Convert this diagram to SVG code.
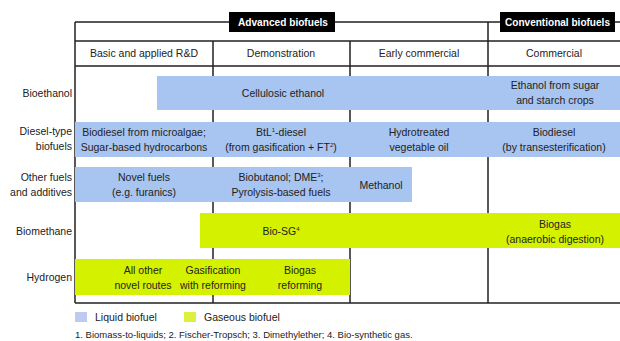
<svg xmlns="http://www.w3.org/2000/svg" width="620" height="341" viewBox="0 0 620 341">
<style>
text{font-family:"Liberation Sans","Open Sans",sans-serif;font-size:10.5px;fill:#222}
.c{text-anchor:middle}
.r{text-anchor:end}
.h{font-size:11px;font-weight:bold;fill:#fff}
.ln{stroke:#222;stroke-width:1.5;fill:none}
.liq{fill:#a8c4f0}
.gas{fill:#d4f200}
.fn{font-size:9.5px}
</style>
<rect width="620" height="341" fill="#fff"/>
<g id="grid">
<path class="ln" d="M75 22H620M75 41H620M75 66H620M75 303H620M75 22V303M213 41V303M350 41V303M488 22V303"/>
</g>
<g id="header-advanced"><rect x="229" y="12" width="106" height="20" fill="#000"/><text class="h" x="238" y="26" textLength="90" lengthAdjust="spacingAndGlyphs">Advanced biofuels</text></g>
<g id="header-conventional"><rect x="500" y="12" width="115" height="20" fill="#000"/><text class="h" x="505" y="26" textLength="105" lengthAdjust="spacingAndGlyphs">Conventional biofuels</text></g>
<g id="stages">
<text class="c" x="144" y="57">Basic and applied R&amp;D</text>
<text class="c" x="281" y="57">Demonstration</text>
<text class="c" x="419" y="57">Early commercial</text>
<text class="c" x="554" y="57">Commercial</text>
</g>
<g id="row-labels">
<text class="r" x="72" y="97">Bioethanol</text>
<text class="r" x="72" y="135">Diesel-type</text>
<text class="r" x="72" y="150">biofuels</text>
<text class="r" x="72" y="181">Other fuels</text>
<text class="r" x="72" y="196">and additives</text>
<text class="r" x="72" y="235">Biomethane</text>
<text class="r" x="72" y="281">Hydrogen</text>
</g>
<g id="bioethanol">
<rect class="liq" x="157" y="76" width="463" height="34"/>
<text class="c" x="283" y="97">Cellulosic ethanol</text>
<text class="c" x="555" y="89">Ethanol from sugar</text>
<text class="c" x="555" y="104">and starch crops</text>
</g>
<g id="diesel">
<rect class="liq" x="75" y="122" width="545" height="35"/>
<text class="c" x="144" y="136">Biodiesel from microalgae;</text>
<text class="c" x="144" y="151">Sugar-based hydrocarbons</text>
<text class="c" x="281" y="136">BtL<tspan font-size="6" dy="-4">1</tspan><tspan dy="4">-diesel</tspan></text>
<text class="c" x="281" y="151">(from gasification + FT<tspan font-size="6" dy="-4">2</tspan><tspan dy="4">)</tspan></text>
<text class="c" x="419" y="136">Hydrotreated</text>
<text class="c" x="419" y="151">vegetable oil</text>
<text class="c" x="554" y="136">Biodiesel</text>
<text class="c" x="554" y="151">(by transesterification)</text>
</g>
<g id="other-fuels">
<rect class="liq" x="75" y="167" width="337" height="35"/>
<text class="c" x="144" y="181">Novel fuels</text>
<text class="c" x="144" y="196">(e.g. furanics)</text>
<text class="c" x="281" y="181">Biobutanol; DME<tspan font-size="6" dy="-4">3</tspan><tspan dy="4">;</tspan></text>
<text class="c" x="281" y="196">Pyrolysis-based fuels</text>
<text class="c" x="381" y="189">Methanol</text>
</g>
<g id="biomethane">
<rect class="gas" x="200" y="213" width="420" height="35"/>
<text class="c" x="281" y="235">Bio-SG<tspan font-size="6" dy="-4">4</tspan></text>
<text class="c" x="555" y="228">Biogas</text>
<text class="c" x="555" y="243">(anaerobic digestion)</text>
</g>
<g id="hydrogen">
<rect class="gas" x="75" y="259" width="275" height="36"/>
<text class="c" x="143" y="274">All other</text>
<text class="c" x="143" y="289">novel routes</text>
<text class="c" x="213" y="274">Gasification</text>
<text class="c" x="213" y="289">with reforming</text>
<text class="c" x="300" y="274">Biogas</text>
<text class="c" x="300" y="289">reforming</text>
</g>
<g id="legend">
<rect x="75" y="312" width="12" height="10" fill="#bccbee"/>
<text x="95" y="321">Liquid biofuel</text>
<rect x="184" y="312" width="12" height="10" fill="#dcf040"/>
<text x="204" y="321">Gaseous biofuel</text>
<text class="fn" x="75" y="338">1. Biomass-to-liquids; 2. Fischer-Tropsch; 3. Dimethylether; 4. Bio-synthetic gas.</text>
</g>
</svg>
